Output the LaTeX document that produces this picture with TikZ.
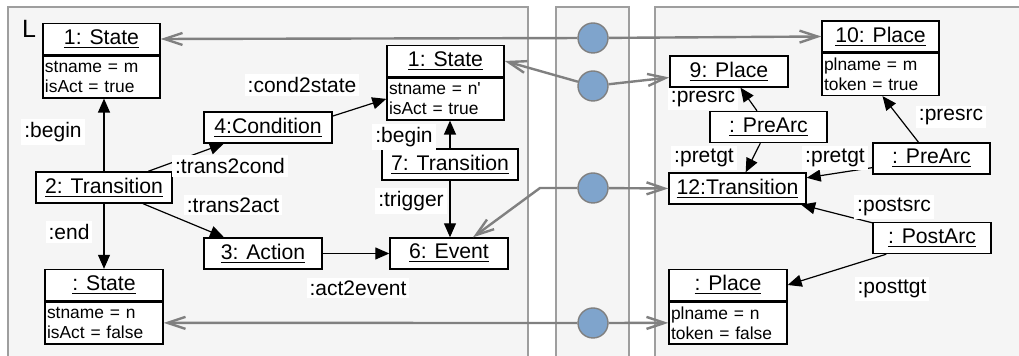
\documentclass[tikz,border=0pt]{standalone}
\usepackage{fontspec}
\setmainfont{Liberation Sans}[Ligatures=TeXOff]
\usetikzlibrary{positioning, arrows.meta, calc}
\definecolor{linkblue}{RGB}{127,164,204}

\begin{document}
\begin{tikzpicture}[x=0.5pt, y=-0.5pt,
    panel/.style={draw=black!38, fill=black!4, line width=0.8pt},
    obj/.style={draw, line width=0.7pt, fill=white, minimum height=15.5pt, inner sep=1pt, font=\fontsize{10.6}{12}\selectfont},
    attr/.style={draw, line width=0.7pt, fill=white, minimum height=21pt, inner xsep=1pt, inner ysep=1pt, align=left, font=\fontsize{8.7}{10}\selectfont},
    lbl/.style={fill=white, inner sep=1.5pt, font=\fontsize{10.5}{12}\selectfont},
    rel/.style={line width=0.6pt, -{Triangle[length=7pt,width=6pt]}},
    link/.style={circle, draw=black!50, line width=0.7pt, fill=linkblue, minimum size=15pt, inner sep=0pt},
    map/.style={draw=black!50, line width=1.2pt, -{Straight Barb[length=9pt,width=6pt]}}]
    \clip (0,0) rectangle (1019,356);
    % the three panels
    \draw[panel] (8,7) rectangle (528,370);
    \draw[panel] (556,7) rectangle (629,370);
    \draw[panel] (655,7) rectangle (1040,370);
    \node[font=\fontsize{12.5}{14}\selectfont, inner sep=0pt] (lhs) at (29,29) {L};

    % left graph
    \node[obj, minimum width=58.5pt] (s1) at (101.5,39) {\underline{1: State}};
    \node[attr, text width=56.5pt, below=0pt of s1] (s1b) {stname = m\\isAct = true};
    \node[obj, minimum width=64pt] (cond) at (268,127.5) {\underline{4:Condition}};
    \node[obj, minimum width=68pt] (tr2) at (104,187.5) {\underline{2: Transition}};
    \node[obj, minimum width=59pt] (act) at (263,253.5) {\underline{3: Action}};
    \node[obj, minimum width=59pt] (s3) at (104,285) {\underline{: State}};
    \node[attr, text width=57pt, below=0pt of s3] (s3b) {stname = n\\isAct = false};
    \node[obj, minimum width=58.5pt] (s2) at (445.5,61) {\underline{1: State}};
    \node[attr, text width=56.5pt, below=0pt of s2] (s2b) {stname = n'\\isAct = true};
    \node[obj, minimum width=68pt] (tr7) at (450,164.5) {\underline{7: Transition}};
    \node[obj, minimum width=59pt] (ev) at (449,253.5) {\underline{6: Event}};

    % right graph
    \node[obj, minimum width=58.5pt] (pl10) at (880.5,36.5) {\underline{10: Place}};
    \node[attr, text width=56.5pt, below=0pt of pl10] (pl10b) {plname = m\\token = true};
    \node[obj, minimum width=59pt] (pl9) at (729,71.5) {\underline{9: Place}};
    \node[obj, minimum width=58.5pt] (pa1) at (768.5,127) {\underline{: PreArc}};
    \node[obj, minimum width=58.5pt] (pa2) at (931.5,158.5) {\underline{: PreArc}};
    \node[obj, minimum width=68.5pt] (tr12) at (737.5,188.5) {\underline{12:Transition}};
    \node[obj, minimum width=59pt] (post) at (932,238) {\underline{: PostArc}};
    \node[obj, minimum width=59pt] (pl0) at (728,285) {\underline{: Place}};
    \node[attr, text width=57pt, below=0pt of pl0] (pl0b) {plname = n\\token = false};

    % morphism links
    \foreach \y [count=\i] in {38,86,188,323}
        \node[link] (c\i) at (593,\y) {};
    \coordinate (k3) at (540,188);
    \draw[map] (c1) -- (s1.east);
    \draw[map] (c1) -- (pl10.west);
    \draw[map] (c2) -- (s2.east);
    \draw[map] (c2) -- ($(pl9.west)+(0,6)$);
    \draw[map] (c3) -- (tr12.west);
    \draw[map] (c3) -- (k3) -- ($(ev.north)+(24,0)$);
    \draw[map] (c4) -- (s3b.east);
    \draw[map] (c4) -- (pl0b.west);

    % edges
    \draw[rel] (tr2.north) -- (tr2.north |- s1b.south);
    \draw[rel] (tr2.south) -- (tr2.south |- s3.north);
    \draw[rel] (tr2) -- (cond);
    \draw[rel] (tr2) -- (act);
    \draw[rel] (cond.10) -- (s2b.west);
    \draw[rel] (act) -- (ev);
    \draw[rel] (tr7.north) -- (tr7.north |- s2b.south);
    \draw[rel] (tr7.south) -- (tr7.south |- ev.north);
    \draw[rel] (pa1) -- (pl9);
    \draw[rel] (pa1) -- (tr12);
    \draw[rel] ($(pa2.north)+(-13,0)$) -- ($(pl10b.south)+(2,0)$);
    \draw[rel] (pa2) -- (tr12);
    \draw[rel] (post) -- (tr12);
    \draw[rel] ($(post.south west)+(14,0)$) -- (pl0.east);

    % edge labels
    \node[lbl] (l1) at (53,132) {:begin};
    \node[lbl] (l2) at (302,85) {:cond2state};
    \node[lbl] (l3) at (230,166) {:trans2cond};
    \node[lbl] (l4) at (233,205) {:trans2act};
    \node[lbl] (l5) at (69,232) {:end};
    \node[lbl] (l6) at (358,288) {:act2event};
    \node[lbl] (l7) at (404,137) {:begin};
    \node[lbl] (l8) at (411,201) {:trigger};
    \node[lbl] (l9) at (703,99) {:presrc};
    \node[lbl] (l10) at (704,158) {:pretgt};
    \node[lbl] (l11) at (835,158) {:pretgt};
    \node[lbl] (l12) at (951,117) {:presrc};
    \node[lbl] (l13) at (894,207) {:postsrc};
    \node[lbl] (l14) at (892,289) {:posttgt};
\end{tikzpicture}
\end{document}
